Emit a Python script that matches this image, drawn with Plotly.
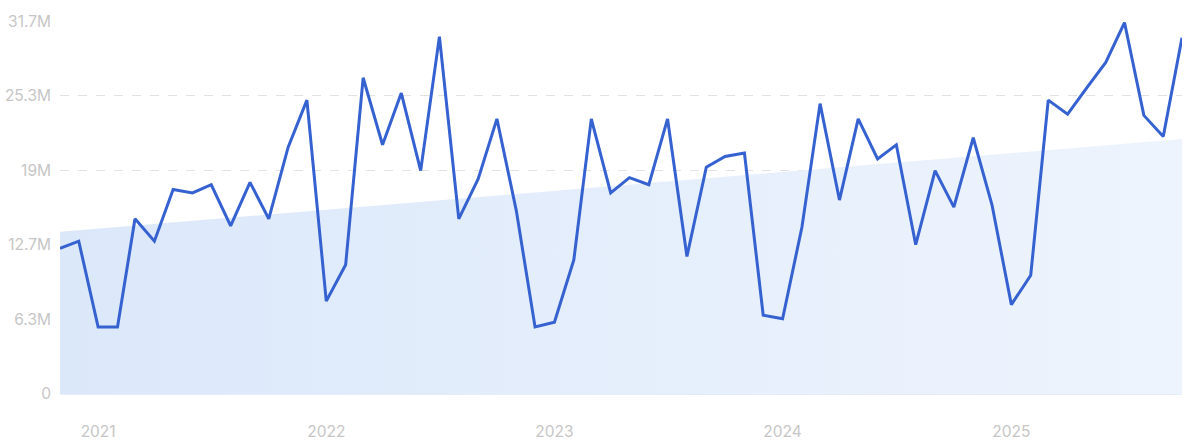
import plotly.graph_objects as go
import pandas as pd

# Monthly values (millions), Nov 2020 - Oct 2025
months = pd.date_range("2020-11-01", periods=60, freq="MS")
values_m = [
    12.4, 13.0, 5.7, 5.7, 14.9, 13.0, 17.4, 17.1, 17.8, 14.3, 18.0, 14.9,
    21.0, 25.0, 7.9, 11.0, 26.9, 21.2, 25.6, 19.0, 30.4, 14.9, 18.3, 23.4,
    15.6, 5.7, 6.1, 11.4, 23.4, 17.1, 18.4, 17.8, 23.4, 11.7, 19.3, 20.2,
    20.5, 6.7, 6.4, 14.2, 24.7, 16.5, 23.4, 20.0, 21.2, 12.7, 19.0, 15.9,
    21.8, 16.1, 7.6, 10.1, 25.0, 23.8, 26.0, 28.2, 31.6, 23.7, 21.9, 30.3,
]
values = [v * 1e6 for v in values_m]

# Trend area endpoints (millions)
trend_start = 13.8
trend_end = 21.7

y_tickvals = [0, 6.34e6, 12.68e6, 19.02e6, 25.36e6, 31.7e6]
y_ticktext = ["0", "6.3M", "12.7M", "19M", "25.3M", "31.7M"]
year_labels = ["2021", "2022", "2023", "2024", "2025"]
year_ticks = [pd.Timestamp(f"{y}-01-01") for y in year_labels]

fig = go.Figure()

fig.add_trace(go.Scatter(
    x=[months[0], months[-1]],
    y=[trend_start * 1e6, trend_end * 1e6],
    mode="lines",
    line=dict(width=0),
    fill="tozeroy",
    fillgradient=dict(type="horizontal",
                      colorscale=[[0, "#dbe8fa"], [1, "#eef4fd"]]),
    hoverinfo="skip",
    showlegend=False,
))

fig.add_trace(go.Scatter(
    x=months,
    y=values,
    mode="lines",
    line=dict(color="#3562d0", width=3),
    showlegend=False,
))

fig.update_layout(
    width=1200, height=443,
    margin=dict(l=60, r=18, t=21, b=49),
    paper_bgcolor="white",
    plot_bgcolor="white",
    font=dict(family="Inter, Roboto, sans-serif", size=15.5, color="#c6c6c6"),
)

fig.update_xaxes(
    range=[months[0], months[-1]],
    tickvals=year_ticks,
    ticktext=year_labels,
    showgrid=False,
    zeroline=False,
    showline=False,
    ticks="",
    ticklabelstandoff=26,
    automargin=False,
)

fig.update_yaxes(
    range=[0, 31.73e6],
    tickvals=y_tickvals,
    ticktext=y_ticktext,
    showgrid=True,
    gridcolor="#e2e2e2",
    griddash="dash",
    gridwidth=1,
    zeroline=True,
    zerolinecolor="#e4edf9",
    zerolinewidth=1.5,
    showline=False,
    ticks="",
    ticklabelstandoff=8,
    automargin=False,
)

fig.write_html(
    "out.html",
    config={"displayModeBar": False},
    post_script="document.body.style.margin='0';document.body.style.overflow='hidden';",
)
